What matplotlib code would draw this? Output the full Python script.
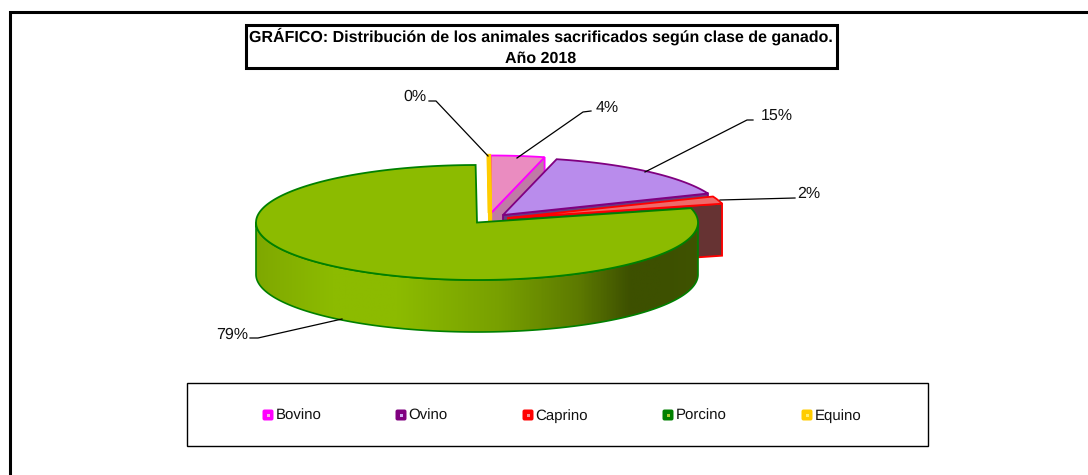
import numpy as np
import matplotlib
matplotlib.use('Agg')
import matplotlib.pyplot as plt
from matplotlib.patches import Polygon, Rectangle, FancyBboxPatch
from matplotlib.colors import LinearSegmentedColormap

plt.rcParams['font.family'] = ['Liberation Sans', 'DejaVu Sans']
plt.rcParams['text.hinting'] = 'no_hinting'
plt.rcParams['text.hinting_factor'] = 1

# Data
categories = ['Bovino', 'Ovino', 'Caprino', 'Porcino', 'Equino']
values = [3.9, 15.0, 2.1, 78.9, 0.1]
title_lines = ['GRÁFICO: Distribución de los animales sacrificados según clase de ganado.', 'Año 2018']

# Styles
edge_colors = ['#ff00ff', '#800080', '#ff0000', '#008000', '#ffcc00']
top_colors = ['#ea8cc0', '#b98cec', '#ef6a6a', '#8cbb00', '#ffcc00']
wall_colors = ['#c07aa6', '#6b3a80', '#663333', '#3d5000', '#ffcc00']
dot_colors = ['#f8b0e0', '#d0b0f4', '#f49090', '#a8cc30', '#ffee70']
edge_widths = [1.3, 1.3, 1.3, 1.3, 2.4]
gradient = ['#7fa800', '#8cbb00', '#8cbb00', '#78a000', '#5d7a00', '#3d5000', '#3d5000', '#3f5300']
gradient_pos = [0.0, 0.17, 0.32, 0.55, 0.73, 0.85, 0.92, 1.0]

# Exploded slice centres in pixels
centers = [(491, 213), (503, 215), (508, 218), (477, 222.5), (489.5, 213)]
rx, ry, depth = 221, 57.5, 52

# Label anchor (baseline), elbow and slice end of each leader line
label_pos = [(607, 112), (777, 120), (809, 198), (232, 339), (415, 101)]
leaders = [[(591, 111), (583, 112), (517, 158)],
           [(753, 120), (747, 120), (645, 172)],
           [(795, 198), (720, 200)],
           [(250, 338), (258, 338), (342, 319)],
           [(429, 101), (436, 101), (488, 156)]]
legend_x = [268, 401, 528, 668, 807]


def ellipse_points(center, t0, t1, n=200):
    # angles in degrees, clockwise from 12 o'clock
    t = np.radians(np.linspace(t0, t1, n))
    return np.column_stack([center[0] + rx * np.sin(t), center[1] - ry * np.cos(t)])


def slice_points(center, t0, t1):
    return np.vstack([[center], ellipse_points(center, t0, t1)])


def cut_face(center, t):
    tip = ellipse_points(center, t, t, 1)[0]
    return [center, tuple(tip), (tip[0], tip[1] + depth), (center[0], center[1] + depth)]


fig = plt.figure(figsize=(10.88, 4.75), dpi=100)
ax = fig.add_axes([0, 0, 1, 1])

# Outer frame, only top and left are visible
ax.plot([9.5, 9.5, 1088], [475, 11.5, 11.5], color='black', lw=2.2, solid_joinstyle='miter')

# Title
ax.add_patch(Rectangle((245.5, 25), 591, 43, fc='white', ec='black', lw=2.2))
ax.text(541, 42, title_lines[0], ha='center', va='baseline', fontsize=11.4, fontweight='bold')
ax.text(541, 63, title_lines[1], ha='center', va='baseline', fontsize=11.4, fontweight='bold')

# Pie angles
ends = np.cumsum(values) / np.sum(values) * 360
starts = np.concatenate([[0], ends[:-1]])

# Slices from back to front, Porcino last
for i in [4, 0, 1, 2]:
    c, t0, t1 = centers[i], starts[i], ends[i]
    ax.add_patch(Polygon(cut_face(c, t1), fc=wall_colors[i], ec=edge_colors[i], lw=edge_widths[i], zorder=2 + i))
    ax.add_patch(Polygon(slice_points(c, t0, t1), fc=top_colors[i], ec=edge_colors[i], lw=edge_widths[i],
                         joinstyle='miter', zorder=2 + i))

# Porcino wall with horizontal gradient
c, t0, t1 = centers[3], starts[3], ends[3]
front = ellipse_points(c, 90, 270)
wall = np.vstack([front, front[::-1] + [0, depth]])
cmap = LinearSegmentedColormap.from_list('porcino', list(zip(gradient_pos, gradient)))
img = ax.imshow(np.linspace(0, 1, 400).reshape(1, -1), cmap=cmap, aspect='auto', zorder=8,
                extent=(c[0] - rx, c[0] + rx, c[1] + ry + depth, c[1] - ry))
img.set_clip_path(Polygon(wall, transform=ax.transData))
ax.add_patch(Polygon(wall, fc='none', ec='#008000', lw=1.2, zorder=9))
ax.add_patch(Polygon(slice_points(c, t0, t1), fc=top_colors[3], ec=edge_colors[3], lw=1.3,
                     joinstyle='miter', zorder=10))

# Labels and leader lines
for i, pct in enumerate(values):
    pts = np.array(leaders[i])
    ax.plot(pts[:, 0], pts[:, 1], color='black', lw=0.9, zorder=11)
    ax.text(label_pos[i][0], label_pos[i][1], f'{round(pct)}%', ha='center', va='baseline',
            fontsize=11.5, color='#111111', zorder=12)

# Legend
ax.add_patch(Rectangle((187, 383), 741, 63, fc='white', ec='black', lw=1))
for i, name in enumerate(categories):
    x = legend_x[i]
    ax.add_patch(FancyBboxPatch((x - 4.5, 410.5), 9, 9, boxstyle='round,pad=1,rounding_size=2',
                                fc=edge_colors[i], ec='none'))
    ax.add_patch(Rectangle((x - 1.5, 413.5), 3, 3, fc=dot_colors[i], ec='none'))
    ax.text(x + 7.5, 420, name, ha='left', va='baseline', fontsize=10.5, color='#111111')

ax.set_xlim(0, 1088)
ax.set_ylim(475, 0)
ax.axis('off')

fig.savefig('out.png', dpi=100, facecolor='white')
